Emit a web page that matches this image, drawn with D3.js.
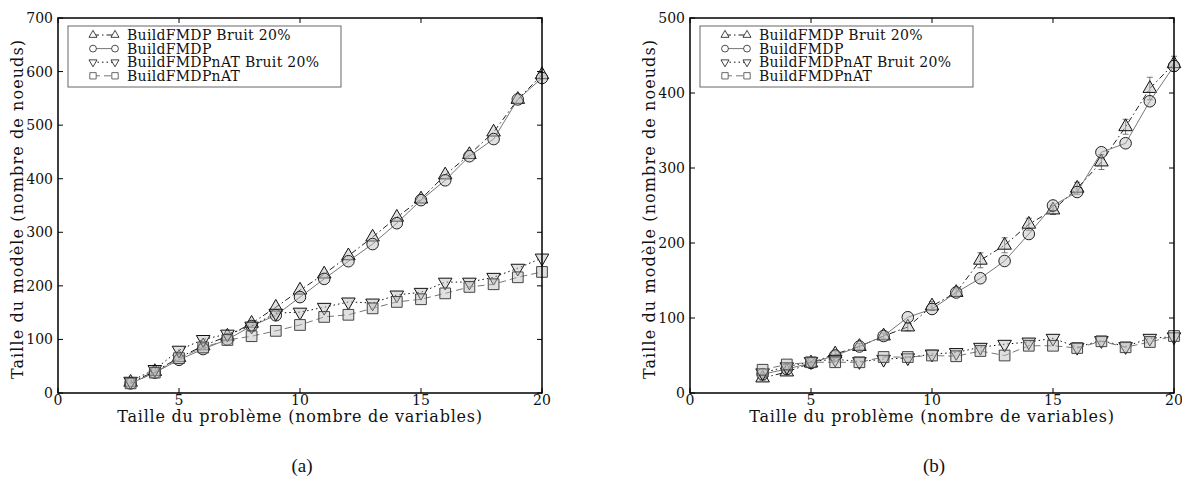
<!DOCTYPE html>
<html>
<head>
<meta charset="utf-8">
<script src="https://cdn.jsdelivr.net/npm/d3@7"></script>
<style>
  body { margin: 0; background: #fff; }
  text { font-family: "DejaVu Serif", serif; fill: #111; }
</style>
</head>
<body>
<script>
// shared x values (problem size)
var sizes = [3,4,5,6,7,8,9,10,11,12,13,14,15,16,17,18,19,20];

// panel (a)
var a_fmdpBruit = [20,40,66,88,106,130,160,192,222,256,291,328,362,407,445,487,548,594];
var a_fmdp      = [18,38,62,82,100,125,145,179,213,246,278,317,360,397,442,474,548,588];
var a_natBruit  = [22,44,80,100,110,125,149,151,160,170,168,183,188,207,207,216,233,252];
var a_nat       = [18,38,65,85,99,106,116,127,142,146,158,170,175,186,198,203,216,226];

// panel (b)
var b_fmdpBruit = [20,28,40,52,62,76,88,116,134,177,197,225,244,273,308,355,406,439];
var b_fmdp      = [25,32,40,50,62,76,101,112,134,153,176,212,250,268,321,333,389,436];
var b_natBruit  = [27,35,42,45,42,45,47,52,54,61,65,68,73,61,70,62,73,75];
var b_nat       = [31,38,41,41,41,48,48,50,49,56,50,63,63,60,69,61,68,76];
var b_errBruit  = [3,3,3,4,4,4,5,6,5,10,10,8,6,8,10,10,15,10];

var yTicksA = [0,100,200,300,400,500,600,700];
var yTicksB = [0,100,200,300,400,500];
var xTicks = [0,5,10,15,20];

var legendNames = ["BuildFMDP Bruit 20%", "BuildFMDP", "BuildFMDPnAT Bruit 20%", "BuildFMDPnAT"];

var W = 1182, H = 491;
var svg = d3.select("body").append("svg").attr("width", W).attr("height", H);

var styles = [
  {marker: d3.symbolTriangle, rot: 0, line: "#222", dash: "6,3,1.5,3", edge: "#111", size: 80},
  {marker: d3.symbolCircle, rot: 0, line: "#777", dash: null, edge: "#222", size: 105},
  {marker: d3.symbolTriangle, rot: 180, line: "#111", dash: "1.5,3", edge: "#111", size: 80},
  {marker: d3.symbolSquare, rot: 0, line: "#777", dash: "7,4", edge: "#444", size: 115}
];

function drawPanel(left, right, yMax, yTicks, series, errs, label) {
  var top = 18, bottom = 393;
  var x = d3.scaleLinear().domain([0, 20]).range([left, right]);
  var y = d3.scaleLinear().domain([0, yMax]).range([bottom, top]);
  var g = svg.append("g");

  // lines + markers
  series.forEach(function(vals, k) {
    var st = styles[k];
    var pts = sizes.map(function(s, i) { return [s, vals[i]]; });
    g.append("path")
      .attr("d", d3.line().x(function(d) { return x(d[0]); }).y(function(d) { return y(d[1]); })(pts))
      .attr("fill", "none")
      .attr("stroke", st.line)
      .attr("stroke-width", 1)
      .attr("stroke-dasharray", st.dash);

    if (errs && errs[k]) {
      pts.forEach(function(d, i) {
        var e = errs[k][i];
        g.append("line").attr("x1", x(d[0])).attr("x2", x(d[0]))
          .attr("y1", y(d[1] - e)).attr("y2", y(d[1] + e))
          .attr("stroke", "#555").attr("stroke-width", 0.8);
        [d[1] - e, d[1] + e].forEach(function(v) {
          g.append("line").attr("x1", x(d[0]) - 3).attr("x2", x(d[0]) + 3)
            .attr("y1", y(v)).attr("y2", y(v))
            .attr("stroke", "#555").attr("stroke-width", 0.8);
        });
      });
    }

    g.selectAll(null).data(pts).enter().append("path")
      .attr("d", d3.symbol().type(st.marker).size(st.size))
      .attr("transform", function(d) {
        return "translate(" + x(d[0]) + "," + y(d[1]) + ") rotate(" + st.rot + ")";
      })
      .attr("fill", "#bbb")
      .attr("fill-opacity", 0.45)
      .attr("stroke", st.edge)
      .attr("stroke-width", 1);
  });

  // frame
  g.append("rect").attr("x", left).attr("y", top)
    .attr("width", right - left).attr("height", bottom - top)
    .attr("fill", "none").attr("stroke", "#000").attr("stroke-width", 1.5);

  // inward ticks on all sides
  xTicks.forEach(function(t) {
    g.append("line").attr("x1", x(t)).attr("x2", x(t)).attr("y1", bottom).attr("y2", bottom - 5).attr("stroke", "#000");
    g.append("line").attr("x1", x(t)).attr("x2", x(t)).attr("y1", top).attr("y2", top + 5).attr("stroke", "#000");
    g.append("text").attr("x", x(t)).attr("y", bottom + 12)
      .attr("text-anchor", "middle").style("font-size", "14px").text(t);
  });
  yTicks.forEach(function(t) {
    g.append("line").attr("x1", left).attr("x2", left + 5).attr("y1", y(t)).attr("y2", y(t)).attr("stroke", "#000");
    g.append("line").attr("x1", right).attr("x2", right - 5).attr("y1", y(t)).attr("y2", y(t)).attr("stroke", "#000");
    g.append("text").attr("x", left - 5).attr("y", y(t) + 5)
      .attr("text-anchor", "end").style("font-size", "14px").text(t);
  });

  // axis labels
  g.append("text").attr("x", (left + right) / 2).attr("y", 422)
    .attr("text-anchor", "middle").style("font-size", "16px").style("letter-spacing", "0.75px")
    .text("Taille du problème  (nombre de variables)");
  g.append("text")
    .attr("transform", "translate(" + (left - 35) + ",209) rotate(-90)")
    .attr("text-anchor", "middle").style("font-size", "16px").style("letter-spacing", "1.1px")
    .text("Taille du modèle (nombre de noeuds)");

  // legend
  var lx = left + 10, ly = 26;
  g.append("rect").attr("x", lx).attr("y", ly).attr("width", 273).attr("height", 61)
    .attr("fill", "#fff").attr("stroke", "#666").attr("stroke-width", 1);
  legendNames.forEach(function(name, k) {
    var st = styles[k];
    var yy = ly + 9 + k * 13.6;
    g.append("line").attr("x1", lx + 25).attr("x2", lx + 47).attr("y1", yy).attr("y2", yy)
      .attr("stroke", st.line).attr("stroke-dasharray", st.dash);
    [lx + 25, lx + 47].forEach(function(px) {
      g.append("path").attr("d", d3.symbol().type(st.marker).size(st.size * 0.35))
        .attr("transform", "translate(" + px + "," + yy + ") rotate(" + st.rot + ")")
        .attr("fill", "#fff").attr("stroke", st.edge).attr("stroke-width", 0.8);
    });
    g.append("text").attr("x", lx + 59).attr("y", yy + 5)
      .style("font-size", "14px").style("letter-spacing", "0.3px").text(name);
  });

  // caption
  svg.append("text").attr("x", (left + right) / 2 + 2).attr("y", 472)
    .attr("text-anchor", "middle")
    .style("font-family", "'Liberation Serif', serif").style("font-size", "19px")
    .text(label);
}

drawPanel(58, 542, 700, yTicksA, [a_fmdpBruit, a_fmdp, a_natBruit, a_nat], null, "(a)");
drawPanel(690, 1174, 500, yTicksB, [b_fmdpBruit, b_fmdp, b_natBruit, b_nat], [b_errBruit, null, null, null], "(b)");
</script>
</body>
</html>
